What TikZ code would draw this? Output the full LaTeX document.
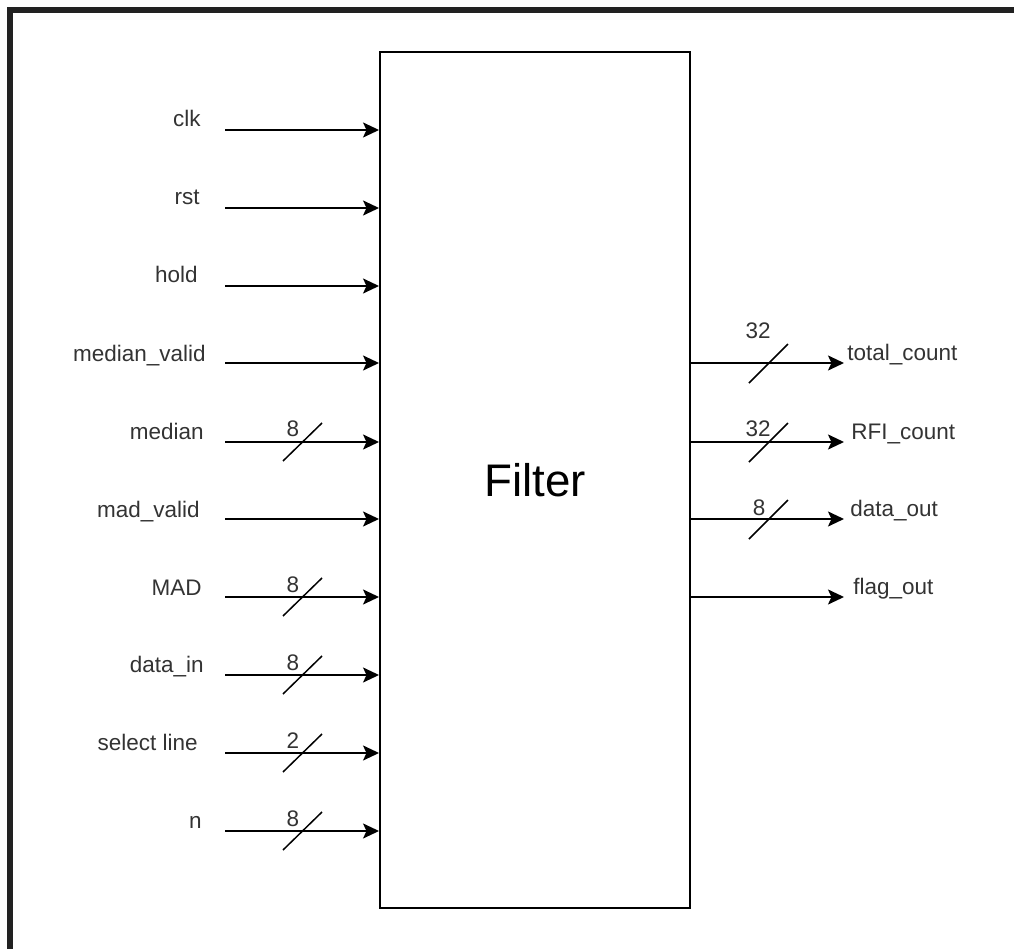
\documentclass[tikz,border=0pt]{standalone}
\usepackage{fontspec}
\setmainfont{Liberation Sans}
\usetikzlibrary{arrows.meta}

\begin{document}
\begin{tikzpicture}[x=0.02cm, y=-0.02cm,
        >={Stealth[length=0.32cm, width=0.3cm, inset=0.07cm]},
        every node/.style={font=\fontsize{12.8}{15}\selectfont, text=black!80, inner sep=0pt},
        sig/.style={->, line width=0.04cm},
        bus/.style={line width=0.03cm}]

        % Frame
        \useasboundingbox (0,0) rectangle (1014,949);
        \draw[line width=0.12cm, black!87] (10,949) -- (10,10) -- (1014,10);

        % Nodes
        \node[draw, line width=0.04cm, minimum width=6.2cm, minimum height=17.12cm,
              font=\fontsize{26}{30}\selectfont, text=black] (filter) at (535,480) {Filter};

        \coordinate (clk-in) at (225,130);
        \coordinate (rst-in) at (225,208);
        \coordinate (hold-in) at (225,286);
        \coordinate (mv-in) at (225,363);
        \coordinate (med-in) at (225,442);
        \coordinate (madv-in) at (225,519);
        \coordinate (mad-in) at (225,597);
        \coordinate (din-in) at (225,675);
        \coordinate (sel-in) at (225,753);
        \coordinate (n-in) at (225,831);

        \coordinate (tc-out) at (844,363);
        \coordinate (rfi-out) at (844,442);
        \coordinate (dout-out) at (844,519);
        \coordinate (flag-out) at (844,597);

        \node[anchor=base east] (clk) at (201,127) {clk};
        \node[anchor=base east] (rst) at (200,205) {rst};
        \node[anchor=base east] (hold) at (198,283) {hold};
        \node[anchor=base east] (mv) at (206,361) {median\_valid};
        \node[anchor=base east] (med) at (204,439) {median};
        \node[anchor=base east] (madv) at (200,517) {mad\_valid};
        \node[anchor=base east] (mad) at (202,595) {MAD};
        \node[anchor=base east] (din) at (204,672) {data\_in};
        \node[anchor=base east] (sel) at (198,750) {select line};
        \node[anchor=base east] (n) at (202,828) {n};

        \node[anchor=base west] (tc) at (847,360) {total\_count};
        \node[anchor=base west] (rfi) at (851,439) {RFI\_count};
        \node[anchor=base west] (dout) at (850,516) {data\_out};
        \node[anchor=base west] (flag) at (853,594) {flag\_out};

        % Bus widths
        \node[anchor=base] (med-w) at (293,437) {8};
        \node[anchor=base] (mad-w) at (293,592) {8};
        \node[anchor=base] (din-w) at (293,670) {8};
        \node[anchor=base] (sel-w) at (293,748) {2};
        \node[anchor=base] (n-w) at (293,826) {8};
        \node[anchor=base] (tc-w) at (758,339) {32};
        \node[anchor=base] (rfi-w) at (758,437) {32};
        \node[anchor=base] (dout-w) at (759,515) {8};

        % Edges
        \draw[sig] (clk-in) -- (clk-in -| filter.west);
        \draw[sig] (rst-in) -- (rst-in -| filter.west);
        \draw[sig] (hold-in) -- (hold-in -| filter.west);
        \draw[sig] (mv-in) -- (mv-in -| filter.west);
        \draw[sig] (med-in) -- (med-in -| filter.west);
        \draw[sig] (madv-in) -- (madv-in -| filter.west);
        \draw[sig] (mad-in) -- (mad-in -| filter.west);
        \draw[sig] (din-in) -- (din-in -| filter.west);
        \draw[sig] (sel-in) -- (sel-in -| filter.west);
        \draw[sig] (n-in) -- (n-in -| filter.west);

        \draw[sig] (tc-out -| filter.east) -- (tc-out);
        \draw[sig] (rfi-out -| filter.east) -- (rfi-out);
        \draw[sig] (dout-out -| filter.east) -- (dout-out);
        \draw[sig] (flag-out -| filter.east) -- (flag-out);

        % Bus slashes
        \draw[bus] (med-in) ++(58,19) -- ++(39,-38);
        \draw[bus] (mad-in) ++(58,19) -- ++(39,-38);
        \draw[bus] (din-in) ++(58,19) -- ++(39,-38);
        \draw[bus] (sel-in) ++(58,19) -- ++(39,-38);
        \draw[bus] (n-in) ++(58,19) -- ++(39,-38);
        \draw[bus] (tc-out -| filter.east) ++(58,20) -- ++(39,-39);
        \draw[bus] (rfi-out -| filter.east) ++(58,20) -- ++(39,-39);
        \draw[bus] (dout-out -| filter.east) ++(58,20) -- ++(39,-39);

    \end{tikzpicture}
\end{document}
